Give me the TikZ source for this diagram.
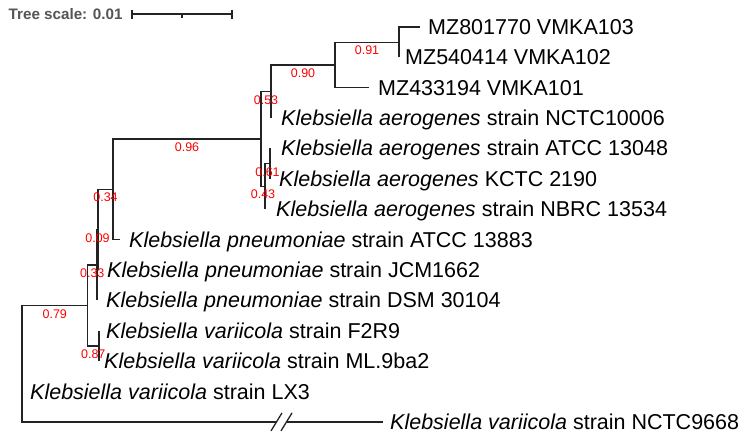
\documentclass[tikz,border=0pt]{standalone}
\usepackage{fontspec}
\setmainfont{Liberation Sans}
\usetikzlibrary{calc}
\definecolor{bsred}{RGB}{255,0,0}
\definecolor{treeline}{RGB}{35,35,35}
\definecolor{scalegray}{RGB}{85,85,85}
\tikzset{
  branch/.style={draw=treeline, line width=1.3bp},
  leaf/.style={anchor=base west, inner sep=0pt, text=black, font=\fontsize{21.5bp}{24bp}\selectfont},
  bs/.style={anchor=base, inner sep=0pt, text=bsred, font=\fontsize{12.5bp}{14bp}\selectfont},
}
\begin{document}
\begin{tikzpicture}[x=1bp,y=-1bp]
\useasboundingbox (0,0) rectangle (748,440);
\fill[white] (0,0) rectangle (748,440);
% leaf tips
\coordinate (L1) at (420,27);
\coordinate (L2) at (399,57.4);
\coordinate (L3) at (369,87.8);
\coordinate (L4) at (271,118.1);
\coordinate (L5) at (270,148.5);
\coordinate (L6) at (270,178.9);
\coordinate (L7) at (265,209.3);
\coordinate (L8) at (120,239.7);
\coordinate (L9) at (98,270.0);
\coordinate (L10) at (97,300.4);
\coordinate (L11) at (99,330.8);
\coordinate (L12) at (99,361.2);
\coordinate (L13) at (22,391.6);
\coordinate (L14) at (383,421.9);
% internal nodes
\coordinate (n91) at (399,42.2);
\coordinate (n90) at (335,65.0);
\coordinate (n53) at (271,91.6);
\coordinate (n61) at (270,163.7);
\coordinate (n43) at (265,186.5);
\coordinate (n96) at (261,139.0);
\coordinate (n34) at (113,189.4);
\coordinate (n09) at (98,229.7);
\coordinate (n33) at (97,265.0);
\coordinate (n87) at (99,346.0);
\coordinate (n79) at (87.5,305.5);
\coordinate (root) at (22,363.7);
\coordinate (b1) at (276.5,421.9);
\coordinate (b2) at (286.5,421.9);
% branches
\draw[branch] (n91) |- (L1);
\draw[branch] (n91) |- (L2);
\draw[branch] (n90) |- (n91);
\draw[branch] (n90) |- (L3);
\draw[branch] (n53) |- (n90);
\draw[branch] (n53) |- (L4);
\draw[branch] (n61) |- (L5);
\draw[branch] (n61) |- (L6);
\draw[branch] (n43) |- (n61);
\draw[branch] (n43) |- (L7);
\draw[branch] (n96) |- (n53);
\draw[branch] (n96) |- (n43);
\draw[branch] (n34) |- (n96);
\draw[branch] (n34) |- (L8);
\draw[branch] (n09) |- (n34);
\draw[branch] (n09) |- (L9);
\draw[branch] (n33) |- (n09);
\draw[branch] (n33) |- (L10);
\draw[branch] (n87) |- (L11);
\draw[branch] (n87) |- (L12);
\draw[branch] (n79) |- (n33);
\draw[branch] (n79) |- (n87);
\draw[branch] (root) |- (n79);
\draw[branch] (root) |- (L13);
\draw[branch] (root) |- (b1);
\draw[branch] (b2) -- (L14);
\draw[branch] ([xshift=-5.5bp,yshift=-9bp]b1) -- ([xshift=5.5bp,yshift=9bp]b1);
\draw[branch] ([xshift=-5.5bp,yshift=-9bp]b2) -- ([xshift=5.5bp,yshift=9bp]b2);
% leaf labels
\node[leaf] (t1) at ([xshift=8bp,yshift=-7.5bp]L1) {MZ801770 VMKA103};
\node[leaf] (t2) at ([xshift=6bp,yshift=-7.5bp]L2) {MZ540414 VMKA102};
\node[leaf] (t3) at ([xshift=9bp,yshift=-7.5bp]L3) {MZ433194 VMKA101};
\node[leaf] (t4) at ([xshift=10bp,yshift=-7.5bp]L4) {\itshape Klebsiella aerogenes\upshape{} strain NCTC10006};
\node[leaf] (t5) at ([xshift=11bp,yshift=-7.5bp]L5) {\itshape Klebsiella aerogenes\upshape{} strain ATCC 13048};
\node[leaf] (t6) at ([xshift=9bp,yshift=-7.5bp]L6) {\itshape Klebsiella aerogenes\upshape{} KCTC 2190};
\node[leaf] (t7) at ([xshift=11bp,yshift=-7.5bp]L7) {\itshape Klebsiella aerogenes\upshape{} strain NBRC 13534};
\node[leaf] (t8) at ([xshift=9bp,yshift=-7.5bp]L8) {\itshape Klebsiella pneumoniae\upshape{} strain ATCC 13883};
\node[leaf] (t9) at ([xshift=9bp,yshift=-7.5bp]L9) {\itshape Klebsiella pneumoniae\upshape{} strain JCM1662};
\node[leaf] (t10) at ([xshift=9bp,yshift=-7.5bp]L10) {\itshape Klebsiella pneumoniae\upshape{} strain DSM 30104};
\node[leaf] (t11) at ([xshift=7bp,yshift=-7.5bp]L11) {\itshape Klebsiella variicola\upshape{} strain F2R9};
\node[leaf] (t12) at ([xshift=5bp,yshift=-7.5bp]L12) {\itshape Klebsiella variicola\upshape{} strain ML.9ba2};
\node[leaf] (t13) at ([xshift=8bp,yshift=-7.5bp]L13) {\itshape Klebsiella variicola\upshape{} strain LX3};
\node[leaf] (t14) at ([xshift=7bp,yshift=-7.5bp]L14) {\itshape Klebsiella variicola\upshape{} strain NCTC9668};
% bootstrap values
\node[bs] (s91) at ([yshift=-12.5bp]$(n90 |- n91)!0.5!(n91)$) {0.91};
\node[bs] (s90) at ([yshift=-12.5bp]$(n53 |- n90)!0.5!(n90)$) {0.90};
\node[bs] (s53) at ([yshift=-12.5bp]$(n96 |- n53)!0.5!(n53)$) {0.53};
\node[bs] (s61) at ([yshift=-12.5bp]$(n43 |- n61)!0.5!(n61)$) {0.61};
\node[bs] (s43) at ([yshift=-12.5bp]$(n96 |- n43)!0.5!(n43)$) {0.43};
\node[bs] (s96) at ([yshift=-12.5bp]$(n34 |- n96)!0.5!(n96)$) {0.96};
\node[bs] (s34) at ([yshift=-12.5bp]$(n09 |- n34)!0.5!(n34)$) {0.34};
\node[bs] (s09) at ([yshift=-12.5bp]$(n33 |- n09)!0.5!(n09)$) {0.09};
\node[bs] (s33) at ([yshift=-12.5bp]$(n79 |- n33)!0.5!(n33)$) {0.33};
\node[bs] (s87) at ([yshift=-12.5bp]$(n79 |- n87)!0.5!(n87)$) {0.87};
\node[bs] (s79) at ([yshift=-12.5bp]$(root |- n79)!0.5!(n79)$) {0.79};
% tree scale
\node[anchor=base west, inner sep=0pt, text=scalegray, font=\bfseries\fontsize{15.2bp}{17bp}\selectfont] (ts) at (8.5,20) {Tree scale: 0.01};
\coordinate (sb1) at (132,14.5);
\coordinate (sb2) at (232,14.5);
\coordinate (sbm) at (182,14.5);
\draw[draw=treeline, line width=2bp] (sb1) -- (sb2);
\draw[draw=treeline, line width=1.6bp] ([yshift=4.5bp]sb1) -- ([yshift=-4.5bp]sb1);
\draw[draw=treeline, line width=1.6bp] ([yshift=4.5bp]sb2) -- ([yshift=-4.5bp]sb2);
\draw[draw=treeline, line width=1.2bp] (sbm) -- ([yshift=-3.5bp]sbm);
\end{tikzpicture}
\end{document}
